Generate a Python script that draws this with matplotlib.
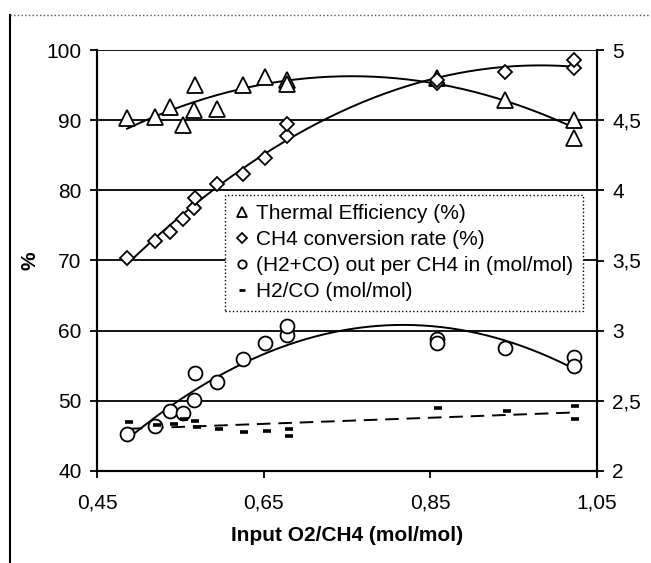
import numpy as np
import matplotlib
matplotlib.use("Agg")
import matplotlib.pyplot as plt
from matplotlib.lines import Line2D
from matplotlib.ticker import FixedLocator, FuncFormatter

plt.rcParams['font.family'] = ['Liberation Sans', 'DejaVu Sans']

# ---- data ----
thermal_x = [0.486, 0.520, 0.538, 0.553, 0.566, 0.568, 0.594, 0.625, 0.651, 0.678, 0.678, 0.858, 0.940, 1.022, 1.022]
thermal_y = [90.3, 90.4, 91.9, 89.3, 91.4, 95.0, 91.6, 95.0, 96.2, 95.7, 95.2, 96.0, 92.9, 90.0, 87.4]

ch4_x = [0.486, 0.520, 0.538, 0.553, 0.566, 0.568, 0.594, 0.625, 0.651, 0.678, 0.678, 0.858, 0.858, 0.940, 1.022, 1.022]
ch4_y = [70.3, 72.8, 74.0, 75.9, 77.5, 78.9, 80.9, 82.3, 84.6, 87.7, 89.5, 95.3, 95.7, 96.9, 97.4, 98.6]

syngas_x = [0.486, 0.520, 0.538, 0.553, 0.566, 0.568, 0.594, 0.625, 0.651, 0.678, 0.678, 0.858, 0.858, 0.940, 1.022, 1.022]
syngas_y = [2.265, 2.32, 2.425, 2.41, 2.505, 2.695, 2.635, 2.795, 2.91, 2.97, 3.03, 2.94, 2.91, 2.875, 2.815, 2.75]

h2co_x = [0.488, 0.522, 0.542, 0.554, 0.568, 0.570, 0.596, 0.626, 0.654, 0.680, 0.680, 0.859, 0.942, 1.024, 1.024]
h2co_y = [2.35, 2.325, 2.335, 2.37, 2.355, 2.31, 2.30, 2.275, 2.285, 2.30, 2.25, 2.45, 2.425, 2.465, 2.37]

x_ticks = [0.45, 0.65, 0.85, 1.05]
left_ticks = [40, 50, 60, 70, 80, 90, 100]
right_ticks = [2, 2.5, 3, 3.5, 4, 4.5, 5]

labels = ["Thermal Efficiency (%)", "CH4 conversion rate (%)",
          "(H2+CO) out per CH4 in (mol/mol)", "H2/CO (mol/mol)"]

def comma(v, pos=None):
    return ("%g" % v).replace(".", ",")

def comma2(v, pos=None):
    return ("%.2f" % v).replace(".", ",")

# ---- figure ----
fig = plt.figure(figsize=(6.51, 5.63), dpi=100)
ax = fig.add_axes([97/651, 1 - 471/563, 500/651, 421/563])
ax2 = ax.twinx()

FS = 15
ax.set_xlim(0.45, 1.05)
ax.set_ylim(40, 100)
ax2.set_ylim(2, 5)

ax.xaxis.set_major_locator(FixedLocator(x_ticks))
ax.xaxis.set_major_formatter(FuncFormatter(comma2))
ax.yaxis.set_major_locator(FixedLocator(left_ticks))
ax2.yaxis.set_major_locator(FixedLocator(right_ticks))
ax2.yaxis.set_major_formatter(FuncFormatter(comma))

for a in (ax, ax2):
    a.tick_params(direction='out', length=5, width=1.3, labelsize=FS, colors='black')
    for s in a.spines.values():
        s.set_linewidth(1.5)
    a.spines['top'].set_visible(False)
ax.tick_params(axis='x', pad=11)
ax.tick_params(axis='y', pad=6)
ax2.tick_params(axis='y', pad=6)

ax.grid(axis='y', color='black', linewidth=1.3)
ax.set_axisbelow(True)

ax.set_xlabel("Input O2/CH4 (mol/mol)", fontsize=FS, fontweight='bold', labelpad=10)
ax.set_ylabel("%", fontsize=FS, fontweight='bold', labelpad=5)

mk = dict(linestyle='none', markerfacecolor='white', markeredgecolor='black', markeredgewidth=1.3)

# trend lines (fitted to the data, like spreadsheet trendlines)
def trend(xs, ys, deg, axis, **kw):
    c = np.polyfit(xs, ys, deg)
    xx = np.linspace(min(xs), max(xs), 200)
    axis.plot(xx, np.polyval(c, xx), color='black', linewidth=1.4, **kw)

trend(thermal_x, thermal_y, 2, ax)
trend(ch4_x, ch4_y, 2, ax)
trend(syngas_x, syngas_y, 2, ax2)
trend(h2co_x, h2co_y, 1, ax2, linestyle=(0, (7, 4)))

ax.plot(thermal_x, thermal_y, marker='^', markersize=11.5, zorder=3, **mk)
ax.plot(ch4_x, ch4_y, marker='D', markersize=7.6, zorder=3, **mk)
ax2.plot(syngas_x, syngas_y, marker='o', markersize=10, zorder=3, **mk)
ax2.plot(h2co_x, h2co_y, marker='_', markersize=5.5, markeredgewidth=2.6,
         color='black', linestyle='none', zorder=3)

handles = [
    Line2D([], [], marker='^', markersize=7, **mk),
    Line2D([], [], marker='D', markersize=5, **mk),
    Line2D([], [], marker='o', markersize=6, **mk),
    Line2D([], [], marker='_', markersize=4, markeredgewidth=2, color='black', linestyle='none'),
]
leg = ax2.legend(handles, labels, loc='upper left', bbox_to_anchor=(0.256, 0.656),
                 fontsize=FS, frameon=True, fancybox=False, handlelength=0.7,
                 handletextpad=0.35, borderpad=0.45, labelspacing=0.34,
                 borderaxespad=0, framealpha=1)
fr = leg.get_frame()
fr.set_edgecolor('black')
fr.set_linestyle(':')
fr.set_linewidth(1.0)

# outer frame lines (left and top)
fig.add_artist(Line2D([10/651, 10/651], [0, 1 - 15/563], color='black', linewidth=1.5,
                      transform=fig.transFigure))
fig.add_artist(Line2D([10/651, 1], [1 - 15/563, 1 - 15/563], color='#555555', linewidth=1.0,
                      linestyle=':', transform=fig.transFigure))

fig.savefig("out.png", dpi=100)
